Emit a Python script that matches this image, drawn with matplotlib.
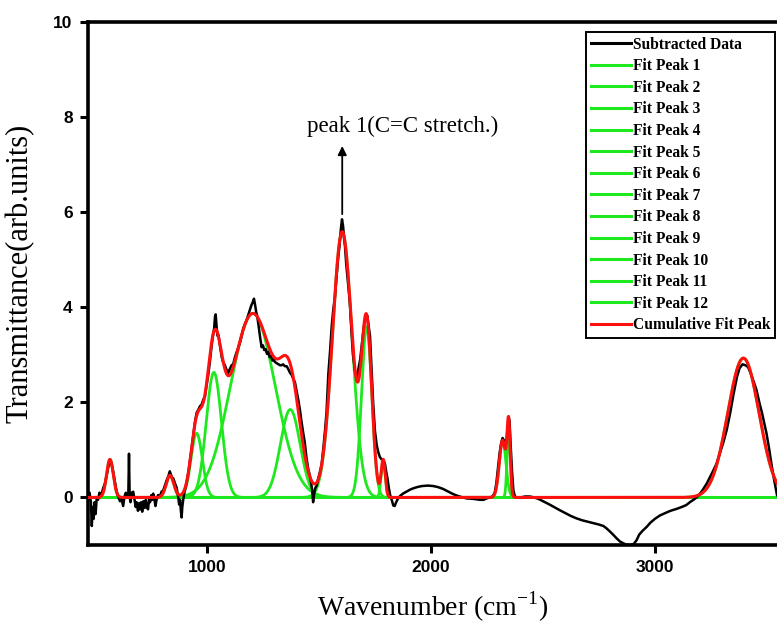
import numpy as np
import matplotlib.pyplot as plt
from matplotlib.lines import Line2D

OUT_FILE = "out.png"

# fitted peaks: centre (cm-1), height, gaussian width (cm-1)
peak_centers = [567, 835, 954, 1031, 1205, 1372, 1604, 1713, 1787, 2320, 2347, 3395]
peak_heights = [0.80, 0.46, 1.35, 2.63, 3.87, 1.85, 5.59, 3.59, 0.78, 1.20, 1.45, 2.93]
peak_sigmas = [15, 17, 25, 34, 100, 44, 44, 23, 9, 15, 7, 70]

# subtracted spectrum
black_wn = [469, 476, 482, 486, 490, 494, 498, 503, 508, 514, 520, 528, 537, 545, 552,
            560, 567, 574, 582, 590, 597, 605, 612, 618, 626, 632, 638, 644, 649, 652,
            655, 659, 664, 671, 677, 682, 686, 692, 697, 701, 706, 711, 716, 722, 727,
            731, 737, 742, 746, 752, 756, 760, 766, 770, 775, 782, 790, 797, 805, 812,
            820, 828, 834, 838, 844, 850, 857, 865, 872, 876, 880, 884, 887, 890, 894,
            900, 909, 918, 925, 932, 940, 947, 954, 962, 969, 976, 983, 991, 998, 1005,
            1013, 1020, 1028, 1032, 1036, 1039, 1043, 1047, 1051, 1058, 1066, 1072, 1080,
            1088, 1095, 1102, 1110, 1117, 1125, 1132, 1140, 1147, 1155, 1162, 1170, 1177,
            1185, 1192, 1199, 1204, 1210, 1215, 1220, 1225, 1232, 1238, 1244, 1250, 1256,
            1262, 1268, 1274, 1280, 1286, 1292, 1298, 1304, 1312, 1320, 1326, 1333, 1340,
            1348, 1356, 1363, 1371, 1378, 1385, 1393, 1400, 1408, 1415, 1422, 1430, 1437,
            1444, 1452, 1460, 1466, 1470, 1474, 1478, 1484, 1490, 1497, 1505, 1512, 1520,
            1527, 1534, 1542, 1550, 1557, 1564, 1571, 1578, 1585, 1592, 1598, 1603, 1608,
            1612, 1616, 1622, 1630, 1638, 1645, 1652, 1661, 1666, 1671, 1678, 1684, 1690,
            1697, 1704, 1710, 1716, 1722, 1728, 1735, 1742, 1750, 1758, 1765, 1772, 1780,
            1787, 1795, 1800, 1806, 1812, 1818, 1825, 1832, 1838, 1845, 1852, 1862, 1875,
            1890, 1905, 1920, 1940, 1960, 1987, 2010, 2030, 2054, 2075, 2095, 2115, 2135,
            2159, 2190, 2219, 2235, 2249, 2262, 2275, 2285, 2292, 2300, 2307, 2314, 2320,
            2326, 2332, 2337, 2342, 2347, 2351, 2356, 2362, 2368, 2375, 2385, 2400, 2420,
            2442, 2460, 2480, 2501, 2530, 2560, 2576, 2600, 2625, 2650, 2675, 2700, 2724,
            2750, 2770, 2784, 2800, 2815, 2829, 2845, 2858, 2870, 2888, 2905, 2918, 2930,
            2945, 2963, 2980, 3000, 3022, 3045, 3070, 3097, 3120, 3140, 3156, 3172, 3186,
            3200, 3215, 3231, 3245, 3260, 3275, 3290, 3305, 3320, 3335, 3350, 3366, 3378,
            3391, 3405, 3416, 3430, 3442, 3454, 3466, 3478, 3490, 3498, 3510, 3522, 3533,
            3545]
black_val = [0.0, 0.1, -0.1, -0.6, -0.2, -0.45, -0.1, -0.35, 0.0, -0.05, 0.1, 0.05, 0.2, 0.3, 0.45,
             0.65, 0.78, 0.72, 0.52, 0.3, 0.12, 0.0, -0.08, -0.02, -0.18, 0.02, 0.1, 0.0, 0.05, 0.92,
             0.0, -0.1, 0.1, 0.12, -0.05, -0.2, -0.1, -0.28, -0.12, -0.25, -0.1, -0.3, -0.08, -0.22, -0.05,
             -0.2, -0.25, -0.02, -0.1, 0.05, -0.05, 0.08, -0.05, -0.18, -0.05, 0.05, 0.02, 0.12, 0.15, 0.25,
             0.36, 0.45, 0.55, 0.5, 0.42, 0.4, 0.3, 0.2, 0.0, -0.15, -0.05, -0.3, -0.42, -0.2, -0.05,
             0.12, 0.3, 0.55, 0.8, 1.05, 1.35, 1.6, 1.78, 1.85, 1.92, 1.95, 2.05, 2.12, 2.35, 2.55,
             2.85, 3.15, 3.45, 3.55, 3.8, 3.85, 3.6, 3.4, 3.42, 3.2, 2.95, 2.85, 2.78,
             2.68, 2.62, 2.7, 2.78, 2.8, 2.95, 3.05, 3.15, 3.25, 3.4, 3.55, 3.65, 3.73,
             3.85, 3.95, 4.05, 4.1, 4.18, 4.05, 3.9, 3.8, 3.55, 3.35, 3.16, 3.2, 3.1,
             3.12, 3.02, 3.06, 2.95, 2.98, 2.88, 2.9, 2.85, 2.82, 2.8, 2.78, 2.78, 2.8,
             2.76, 2.76, 2.7, 2.62, 2.58, 2.5, 2.42, 2.25, 2.05, 1.85, 1.6, 1.35, 1.15,
             0.85, 0.6, 0.45, 0.28, 0.15, -0.1, 0.05, 0.2, 0.25, 0.4, 0.55, 0.7, 1.05,
             1.4, 1.8, 2.6, 3.1, 3.6, 3.95, 4.2, 4.6, 5.0, 5.3, 5.65, 5.85, 5.7,
             5.45, 5.3, 4.9, 4.5, 4.1, 3.5, 3.0, 2.65, 2.55, 2.55, 2.75, 2.9, 3.15,
             3.45, 3.7, 3.83, 3.82, 3.6, 3.4, 2.7, 2.0, 1.4, 1.1, 0.95, 0.85, 0.8,
             0.8, 0.7, 0.55, 0.4, 0.2, 0.05, -0.05, -0.17, -0.18, -0.1, -0.03, 0.03, 0.08,
             0.12, 0.16, 0.19, 0.22, 0.24, 0.25, 0.24, 0.22, 0.18, 0.13, 0.08, 0.04, 0.01,
             -0.02, -0.03, -0.05, -0.05, -0.02, 0.0, 0.02, 0.1, 0.3, 0.65, 0.95, 1.15, 1.25,
             1.2, 1.1, 1.15, 1.45, 1.7, 1.6, 1.1, 0.55, 0.15, 0.02, 0.0, 0.0, 0.02,
             0.02, 0.0, -0.03, -0.08, -0.15, -0.23, -0.27, -0.33, -0.39, -0.44, -0.48, -0.51, -0.54,
             -0.57, -0.6, -0.65, -0.72, -0.79, -0.86, -0.93, -0.96, -0.99, -1.0, -0.98, -0.9, -0.78,
             -0.7, -0.62, -0.53, -0.45, -0.38, -0.33, -0.28, -0.24, -0.2, -0.16, -0.1, -0.05, 0.0,
             0.07, 0.17, 0.29, 0.42, 0.56, 0.71, 0.93, 1.15, 1.41, 1.75, 2.15, 2.53, 2.72,
             2.8, 2.78, 2.74, 2.58, 2.42, 2.25, 2.0, 1.78, 1.52, 1.35, 1.02, 0.65, 0.35,
             0.05]

x_ticks = [1000, 2000, 3000]
y_ticks = [0, 2, 4, 6, 8, 10]

GREEN = "#1ee81e"
RED = "#ff1010"
SERIF = "Liberation Serif"
SANS = "Liberation Sans"

fig = plt.figure(figsize=(7.77, 6.28), dpi=100)
ax = fig.add_axes([88 / 777, 1 - 545 / 628, 1 - 88 / 777, (545 - 22) / 628])

# gaussian fit curves
x = np.linspace(469, 3545, 4000)
fits = []
for c, h, s in zip(peak_centers, peak_heights, peak_sigmas):
    fits.append(h * np.exp(-0.5 * ((x - c) / s) ** 2))
cumulative = np.sum(fits, axis=0)

for g in fits:
    ax.plot(x, g, color=GREEN, lw=2.0, zorder=2)
ax.plot(black_wn, black_val, color="black", lw=1.8, zorder=3)
ax.plot(x, cumulative, color=RED, lw=2.2, zorder=4)

# arrow + label for peak 1
ax.annotate("", xy=(1604, 7.45), xytext=(1604, 5.9),
            arrowprops=dict(arrowstyle="-|>", color="black", lw=1.3, mutation_scale=13))
ax.text(1875, 7.8, "peak 1(C=C stretch.)", ha="center", va="center",
        family=SERIF, fontsize=16.5)

ax.set_xlim(469, 3545)
ax.set_ylim(-1, 10)
ax.set_xticks(x_ticks)
ax.set_yticks(y_ticks)
ax.tick_params(direction="out", length=6, width=2.2, labelsize=12.5, pad=5)
for lab in ax.get_xticklabels() + ax.get_yticklabels():
    lab.set_fontfamily(SANS)
    lab.set_fontweight("bold")

for side in ["left", "bottom", "top"]:
    ax.spines[side].set_linewidth(2.6)
ax.spines["right"].set_visible(False)

ax.set_xlabel("Wavenumber (cm$^{\\mathregular{-1}}$)", family=SERIF, fontsize=20)
ax.set_ylabel("Transmittance(arb.units)", family=SERIF, fontsize=22)
ax.xaxis.set_label_coords(0.5, -0.085)
ax.yaxis.set_label_coords(-0.077, 0.52)

# legend
handles = [Line2D([], [], color="black", lw=2.2)]
labels = ["Subtracted Data"]
for i in range(len(peak_centers)):
    handles.append(Line2D([], [], color=GREEN, lw=2.2))
    labels.append(f"Fit Peak {i + 1}")
handles.append(Line2D([], [], color=RED, lw=2.2))
labels.append("Cumulative Fit Peak")
leg = ax.legend(handles, labels, loc="upper right", bbox_to_anchor=(775 / 777, 1 - 32 / 628),
                bbox_transform=fig.transFigure, prop={"family": SERIF, "weight": "bold", "size": 11.2},
                frameon=True, fancybox=False, framealpha=1, edgecolor="black",
                handlelength=2.6, handletextpad=0.12, labelspacing=0.36, borderpad=0.3,
                borderaxespad=0)
leg.get_frame().set_linewidth(1.4)

fig.savefig(OUT_FILE, dpi=100)
